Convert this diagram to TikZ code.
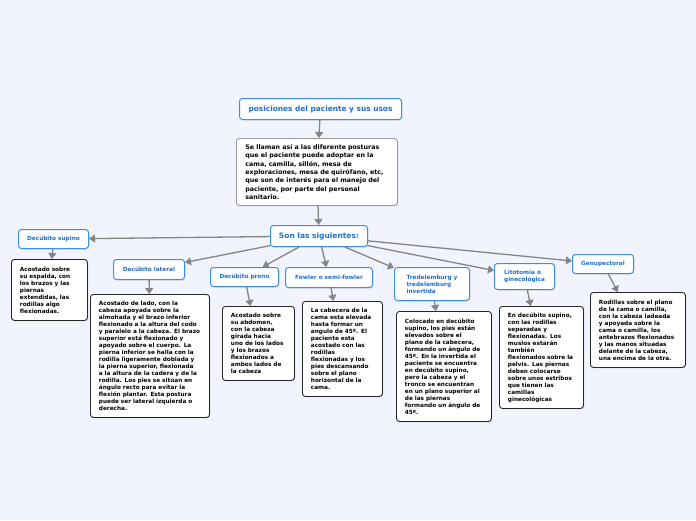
\documentclass[tikz,border=0pt]{standalone}
\usepackage{fontspec}
\setmainfont{DejaVu Sans}
\usetikzlibrary{arrows.meta,shadows}
\definecolor{bg}{HTML}{F1F4FD}
\definecolor{bblue}{HTML}{3A8EE6}
\definecolor{tblue}{HTML}{1F6FD0}
\definecolor{arr}{HTML}{858585}
\begin{document}
\begin{tikzpicture}[x=1pt,y=-1pt,
 shad/.style={drop shadow={opacity=0.2,shadow xshift=0.8pt,shadow yshift=-1pt}},
 lab/.style={draw=bblue, line width=1pt, fill=white, rounded corners=3pt, text=tblue,
   font=\bfseries\fontsize{5.75}{7}\selectfont, align=left, anchor=north west, inner sep=2pt, shad},
 sub/.style={draw=black!85, line width=0.9pt, fill=white, rounded corners=3pt,
   font=\bfseries\fontsize{5.75}{7}\selectfont, align=left, anchor=north west,
   inner xsep=8.5pt, inner ysep=2pt, shad},
 con/.style={draw=arr, line width=1.3pt, -{Triangle[length=6pt,width=8pt]}}
]
\path[fill=bg] (0,0) rectangle (696,520);

\node[lab, minimum width=162pt, minimum height=21pt, font=\bfseries\fontsize{7.4}{9}\selectfont] (title) at (239,98) {posiciones del paciente y sus usos};
\node[sub, draw=black!40, inner xsep=9pt, text width=143pt, minimum height=67pt, font=\bfseries\fontsize{6.3}{8.3}\selectfont] (desc) at (236,138)
 {Se llaman así a las diferente posturas\\que el paciente puede adoptar en la\\cama, camilla, sillón, mesa de\\exploraciones, mesa de quirófano, etc,\\que son de interés para el manejo del\\paciente, por parte del personal\\sanitario.};
\node[lab, minimum width=97pt, minimum height=21pt, font=\bfseries\fontsize{7.5}{9}\selectfont] (son) at (270,225) {Son las siguientes:};

\node[lab, minimum width=70pt, minimum height=19pt] (supino) at (18,229) {Decúbito supino};
\node[lab, minimum width=71pt, minimum height=20pt] (lateral) at (113,259) {Decúbito lateral};
\node[lab, minimum width=68pt, minimum height=19pt] (prono) at (210,267) {Decúbito prono};
\node[lab, minimum width=87pt, minimum height=20pt] (fowler) at (285,267) {Fowler o semi-fowler};
\node[lab, minimum width=75pt, minimum height=33pt] (tred) at (394,267) {Tredelemburg y\\tredelemburg\\invertida};
\node[lab, minimum width=60pt, minimum height=26pt] (lito) at (494,263) {Litotomía o\\ginecológica};
\node[lab, minimum width=61pt, minimum height=19pt] (genu) at (572,254) {Genupectoral};

\node[sub, text width=59pt, minimum height=61pt] (ssupino) at (11,259)
 {Acostado sobre\\su espalda, con\\los brazos y las\\piernas\\extendidas, las\\rodillas algo\\flexionadas.};
\node[sub, text width=102pt, minimum height=123pt] (slateral) at (90,294)
 {Acostado de lado, con la\\cabeza apoyada sobre la\\almohada y el brazo inferior\\flexionado a la altura del codo\\y paralelo a la cabeza. El brazo\\superior está flexionado y\\apoyado sobre el cuerpo. La\\pierna inferior se halla con la\\rodilla ligeramente doblada y\\la pierna superior, flexionada\\a la altura de la cadera y de la\\rodilla. Los pies se sitúan en\\ángulo recto para evitar la\\flexión plantar. Esta postura\\puede ser lateral izquierda o\\derecha.};
\node[sub, text width=55pt, minimum height=74pt] (sprono) at (222,306)
 {Acostado sobre\\su abdomen,\\con la cabeza\\girada hacia\\uno de los lados\\y los brazos\\flexionados a\\ambos lados de\\la cabeza};
\node[sub, text width=63pt, minimum height=95pt] (sfowler) at (302,301)
 {La cabecera de la\\cama esta elevada\\hasta formar un\\angulo de 45º. El\\paciente esta\\acostado con las\\rodillas\\flexionadas y los\\pies descansando\\sobre el plano\\horizontal de la\\cama.};
\node[sub, text width=78pt, minimum height=110pt] (stred) at (396,311)
 {Colocado en decúbito\\supino, los pies están\\elevados sobre el\\plano de la cabecera,\\formando un ángulo de\\45º. En la invertida el\\paciente se encuentra\\en decúbito supino,\\pero la cabeza y el\\tronco se encuentran\\en un plano superior al\\de las piernas\\formando un ángulo de\\45º.};
\node[sub, text width=67pt, minimum height=102pt] (slito) at (499,306)
 {En decúbito supino,\\con las rodillas\\separadas y\\flexionadas. Los\\muslos estarán\\también\\flexionados sobre la\\pelvis. Las piernas\\deben colocarse\\sobre unos estribos\\que tienen las\\camillas\\ginecológicas};
\node[sub, text width=78pt, minimum height=75pt] (sgenu) at (590,292)
 {Rodillas sobre el plano\\de la cama o camilla,\\con la cabeza ladeada\\y apoyada sobre la\\cama o camilla, los\\antebrazos flexionados\\y las manos situadas\\delante de la cabeza,\\una encima de la otra.};

\draw[con] (title) -- (desc);
\draw[con] (desc) -- (son);
\foreach \t in {supino,lateral,prono,fowler,tred,lito,genu}{
  \draw[con] (son) -- (\t);
}
\draw[con] (supino) -- (ssupino);
\draw[con] (lateral) -- (slateral);
\draw[con] (prono) -- (sprono);
\draw[con] (fowler) -- (sfowler);
\draw[con] (tred) -- (stred);
\draw[con] (lito) -- (slito);
\draw[con] (genu) -- (sgenu);
\end{tikzpicture}
\end{document}
